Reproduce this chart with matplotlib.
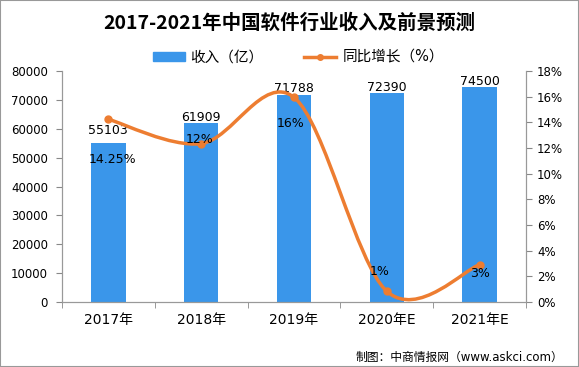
import matplotlib
matplotlib.use('Agg')
import matplotlib.pyplot as plt
from matplotlib.path import Path
from matplotlib.patches import PathPatch, Patch, Rectangle
from matplotlib.lines import Line2D

plt.rcParams['font.family'] = ['DejaVu Sans', 'Noto Sans CJK SC']

years = ['2017年', '2018年', '2019年', '2020年E', '2021年E']
revenue = [55103, 61909, 71788, 72390, 74500]
growth = [14.25, 12.35, 15.96, 0.84, 2.91]
growth_labels = ['14.25%', '12%', '16%', '1%', '3%']

bar_color = '#3A96EA'
line_color = '#ED7D31'

fig = plt.figure(figsize=(5.79, 3.67), dpi=100)
ax = fig.add_axes([0.107, 0.177, 0.8015, 0.629])
ax2 = ax.twinx()

x = list(range(len(years)))
ax.bar(x, revenue, width=0.37, color=bar_color, zorder=2)
ax.set_xlim(-0.5, len(years) - 0.5)
ax.set_ylim(0, 80000)
ax.set_yticks(range(0, 80001, 10000))
ax.set_xticks(x)
ax.set_xticklabels(years, fontsize=10)
ax.set_xticks([i - 0.5 for i in range(len(years) + 1)], minor=True)
ax.tick_params(axis='x', which='major', length=0, pad=8)
ax.tick_params(axis='x', which='minor', length=4, color='#888888')
ax.tick_params(axis='y', labelsize=8.5, length=4, color='#888888', pad=6)

ax2.set_ylim(0, 18)
ax2.set_yticks(range(0, 19, 2))
ax2.set_yticklabels(['{}%'.format(v) for v in range(0, 19, 2)])
ax2.tick_params(axis='y', labelsize=8.5, length=4, color='#888888', pad=4)

for a in (ax, ax2):
    a.spines['top'].set_visible(False)
    for s in ('left', 'right', 'bottom'):
        a.spines[s].set_color('#999999')

# bar value labels
bar_offsets = [13, 6, 6, 6, 6]
for i, v in enumerate(revenue):
    ax.annotate(str(v), (i, v), xytext=(0, bar_offsets[i]), textcoords='offset pixels',
                ha='center', va='center', fontsize=9, zorder=5)

# smoothed line (Excel-like bezier through the points)
pts = list(zip(x, growth))
verts = [pts[0]]
codes = [Path.MOVETO]
for i in range(len(pts) - 1):
    p0 = pts[i - 1] if i > 0 else pts[i]
    p1 = pts[i]
    p2 = pts[i + 1]
    p3 = pts[i + 2] if i + 2 < len(pts) else pts[i + 1]
    c1 = (p1[0] + (p2[0] - p0[0]) / 6, p1[1] + (p2[1] - p0[1]) / 6)
    c2 = (p2[0] - (p3[0] - p1[0]) / 6, p2[1] - (p3[1] - p1[1]) / 6)
    verts += [c1, c2, p2]
    codes += [Path.CURVE4] * 3
ax2.add_patch(PathPatch(Path(verts, codes), facecolor='none', edgecolor=line_color,
                        lw=2.5, zorder=3, clip_on=False))
ax2.plot(x, growth, 'o', color=line_color, ms=5, zorder=4)

lbl_offsets = [(4, -40), (-2, 4), (-3, -26), (-7, 20), (0, -9)]
for i, (v, t) in enumerate(zip(growth, growth_labels)):
    ax2.annotate(t, (i, v), xytext=lbl_offsets[i], textcoords='offset pixels',
                 ha='center', va='center', fontsize=9, zorder=5)

fig.text(0.5, 0.938, '2017-2021年中国软件行业收入及前景预测', ha='center', va='center',
         fontsize=14, fontweight='bold', family=['Noto Sans CJK SC'])

handles = [Patch(color=bar_color),
           Line2D([0], [0], color=line_color, lw=2.5, marker='o', ms=4)]
fig.legend(handles, ['收入（亿）', '同比增长（%）'], loc='center', bbox_to_anchor=(0.515, 0.845),
           ncol=2, frameon=False, fontsize=10.5, handlelength=2.2, handleheight=0.55,
           columnspacing=2.8, handletextpad=0.4)

fig.text(0.972, 0.025, '制图：中商情报网（www.askci.com）', ha='right', va='center', fontsize=8.5)

fig.patches.append(Rectangle((0, 0), 1, 1, transform=fig.transFigure, fill=False,
                             edgecolor='#999999', lw=1.5))

fig.savefig('out.png', dpi=100)
